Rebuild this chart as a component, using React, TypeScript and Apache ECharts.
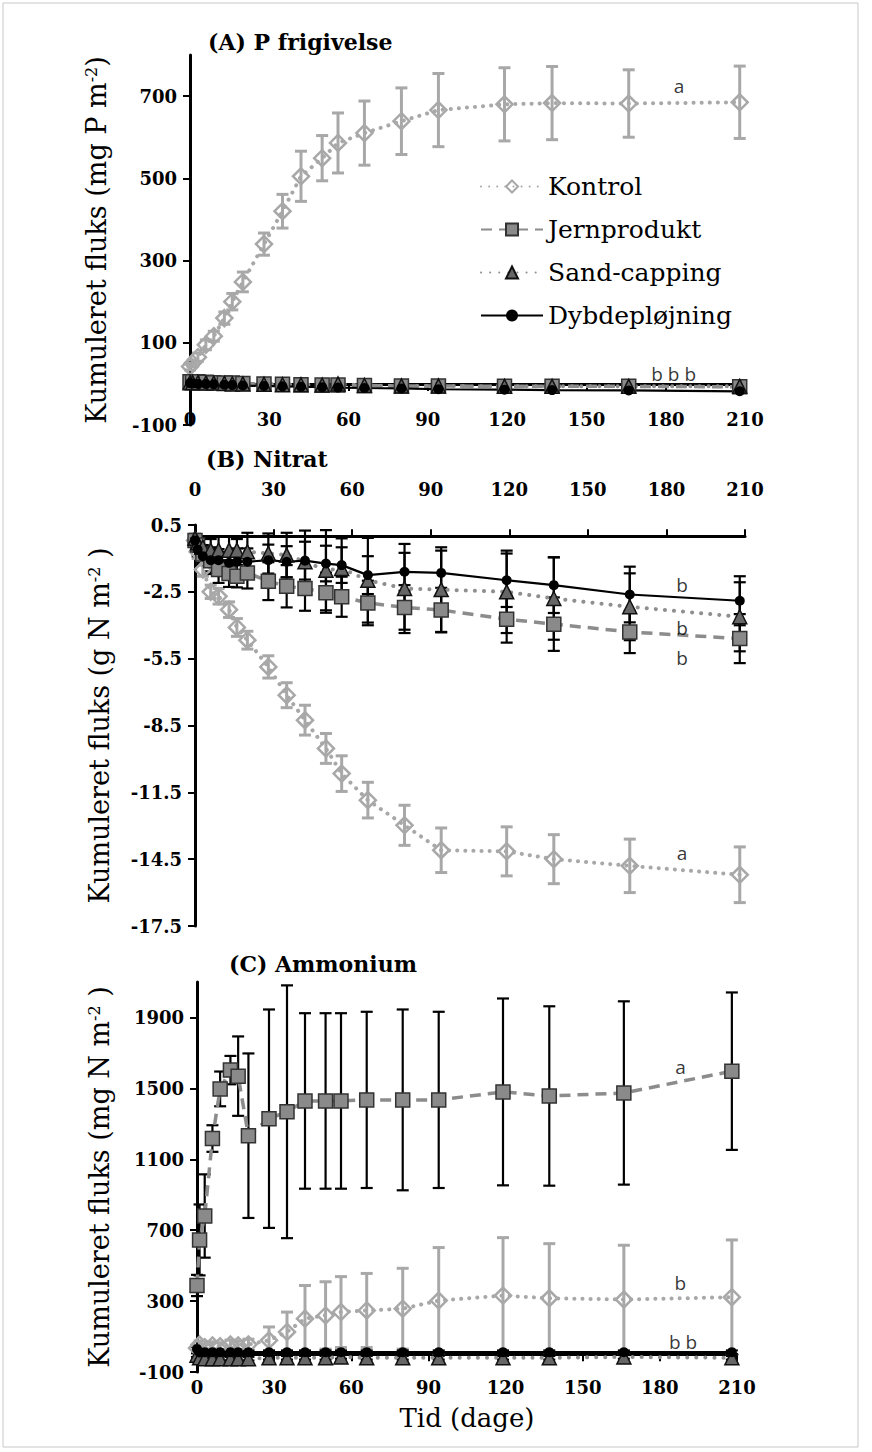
import React, { useEffect, useRef } from 'react';
import * as echarts from 'echarts';

// ---------- data ----------
const days = [0, 1, 3, 6, 9, 13, 16, 20, 28, 35, 42, 50, 56, 66, 80, 94, 119, 137, 166, 208];
const seriesNames = ['Kontrol', 'Jernprodukt', 'Sand-capping', 'Dybdepløjning'];

// (A) P frigivelse (mg P m-2)
const pKontrol = [42, 50, 65, 95, 116, 160, 200, 248, 340, 420, 505, 549, 586, 610, 639, 666, 680, 683, 682, 685];
const pKontrolErr = [8, 8, 10, 12, 12, 15, 20, 24, 27, 41, 61, 55, 73, 78, 81, 89, 89, 89, 82, 88];
const pJern = [5, 5, 5, 4, 3, 2, 2, 1, 0, -1, -2, -3, -3, -4, -5, -5, -6, -6, -6, -7];
const pSand = [3, 3, 3, 2, 2, 1, 0, 0, -1, -2, -2, -3, 0, -4, -5, -5, -6, -6, -6, -6];
const pDyb = [2, 1, 0, 0, -1, -2, -3, -4, -5, -6, -7, -8, -9, -10, -11, -13, -14, -15, -16, -18];
const pSmallErr = [3, 3, 3, 3, 3, 3, 3, 3, 3, 3, 3, 3, 3, 3, 3, 3, 3, 3, 3, 3];

// (B) Nitrat (g N m-2)
const nKontrol = [-0.2, -0.7, -1.5, -2.5, -2.7, -3.3, -4.1, -4.67, -5.87, -7.14, -8.26, -9.53, -10.66, -11.85, -12.98, -14.1, -14.15, -14.5, -14.8, -15.2];
const nKontrolErr = [0.2, 0.3, 0.3, 0.3, 0.35, 0.35, 0.4, 0.4, 0.5, 0.56, 0.67, 0.67, 0.8, 0.8, 0.9, 1.0, 1.1, 1.1, 1.2, 1.25];
const nJern = [-0.2, -0.4, -0.8, -1.1, -1.5, -1.68, -1.8, -1.65, -2.02, -2.25, -2.35, -2.54, -2.72, -3.0, -3.2, -3.32, -3.73, -3.95, -4.3, -4.6];
const nJernErr = [0.2, 0.3, 0.4, 0.6, 0.6, 0.6, 0.5, 0.7, 0.85, 0.95, 1.0, 0.9, 0.9, 1.0, 1.0, 1.0, 1.05, 1.2, 0.95, 1.1];
const nSand = [-0.1, -0.3, -0.5, -0.63, -0.63, -0.63, -0.63, -0.7, -0.78, -0.85, -1.15, -1.53, -1.45, -1.98, -2.35, -2.4, -2.5, -2.8, -3.17, -3.62];
const nSandErr = [0.2, 0.3, 0.4, 0.5, 0.6, 0.6, 0.5, 0.85, 0.9, 1.0, 1.4, 1.8, 1.35, 1.9, 2.0, 1.9, 1.85, 1.85, 1.5, 1.55];
const nDyb = [-0.2, -0.6, -0.9, -1.08, -1.08, -1.2, -1.15, -1.15, -1.08, -1.15, -1.1, -1.23, -1.3, -1.75, -1.6, -1.65, -1.98, -2.2, -2.62, -2.9];
const nDybErr = [0.2, 0.3, 0.4, 0.5, 0.5, 0.5, 0.6, 0.6, 0.7, 0.7, 0.85, 0.8, 0.8, 0.85, 0.85, 1.0, 1.2, 1.25, 1.25, 1.1];

// (C) Ammonium (mg N m-2)
const aKontrol = [35, 55, 40, 50, 45, 55, 50, 55, 79, 126, 201, 219, 238, 247, 257, 303, 331, 316, 309, 322];
const aKontrolErr = [15, 20, 15, 20, 20, 25, 25, 30, 75, 112, 187, 190, 200, 209, 228, 299, 327, 308, 306, 323];
const aJern = [388, 645, 780, 1217, 1497, 1603, 1569, 1233, 1329, 1368, 1429, 1429, 1429, 1435, 1435, 1435, 1480, 1457, 1474, 1597];
const aJernErr = [60, 200, 235, 75, 98, 80, 224, 464, 616, 713, 495, 495, 495, 497, 510, 497, 527, 506, 517, 444];
const aSand = [-5, -20, -25, -25, -25, -25, -25, -25, -20, -20, -20, -20, -15, -20, -20, -20, -20, -20, -15, -20];
const aDyb = [30, 10, 12, 12, 12, 12, 12, 12, 12, 12, 12, 12, 12, 12, 12, 12, 12, 12, 12, 12];
const aSmallErr = [10, 10, 10, 10, 10, 10, 10, 10, 10, 10, 10, 10, 10, 10, 10, 10, 10, 10, 10, 10];

// tick labels
const xTicks = [0, 30, 60, 90, 120, 150, 180, 210];
const yTicksA = [-100, 100, 300, 500, 700];
const yTicksB = [-17.5, -14.5, -11.5, -8.5, -5.5, -2.5, 0.5];
const yTicksC = [-100, 300, 700, 1100, 1500, 1900];

// significance letters [day, value, text]
const annotA: [number, number, string][] = [[185, 725, 'a'], [183, 25, 'b b b']];
const annotB: [number, number, string][] = [[186, -2.2, 'b'], [186, -4.12, 'b'], [186, -5.48, 'b'], [186, -14.23, 'a']];
const annotC: [number, number, string][] = [[188, 1620, 'a'], [188, 404, 'b'], [189, 68, 'b b']];

// ---------- styles ----------
const SERIF = 'DejaVu Serif';
const styles: Record<string, any> = {
  Kontrol: {
    symbol: 'diamond', symbolSize: 16,
    itemStyle: { color: 'rgba(255,255,255,0)', borderColor: '#a8a8a8', borderWidth: 2.5 },
    lineStyle: { color: '#a8a8a8', width: 4, type: [0.1, 8], cap: 'round' },
  },
  Jernprodukt: {
    symbol: 'rect', symbolSize: 14,
    itemStyle: { color: '#8a8a8a', borderColor: '#333', borderWidth: 1.5 },
    lineStyle: { color: '#8c8c8c', width: 3.5, type: [11, 7] },
  },
  'Sand-capping': {
    symbol: 'triangle', symbolSize: 14,
    itemStyle: { color: '#666', borderColor: '#111', borderWidth: 1.5 },
    lineStyle: { color: '#8f8f8f', width: 4, type: [0.1, 9], cap: 'round' },
  },
  Dybdepløjning: {
    symbol: 'circle', symbolSize: 10,
    itemStyle: { color: '#000' },
    lineStyle: { color: '#000', width: 2.2, type: 'solid' },
  },
};

function lineSeries(name: string, idx: number, vals: number[]) {
  const st = styles[name];
  return {
    type: 'line', name, xAxisIndex: idx * 2, yAxisIndex: idx, z: 3, silent: true,
    data: days.map((d, i) => [d, vals[i]]),
    symbol: st.symbol, symbolSize: st.symbolSize,
    itemStyle: st.itemStyle, lineStyle: st.lineStyle,
  };
}

function errSeries(idx: number, vals: number[], errs: number[], color: string, width: number) {
  return {
    type: 'custom', xAxisIndex: idx * 2, yAxisIndex: idx, z: 2, silent: true,
    data: days.map((d, i) => [d, vals[i] - errs[i], vals[i] + errs[i]]),
    encode: { x: 0, y: [1, 2] },
    renderItem: (_p: any, api: any) => {
      const x = api.value(0);
      const a = api.coord([x, api.value(1)]);
      const b = api.coord([x, api.value(2)]);
      const st = { stroke: color, lineWidth: width, fill: 'none' };
      const cw = 6;
      return {
        type: 'group',
        children: [
          { type: 'line', shape: { x1: a[0], y1: a[1], x2: b[0], y2: b[1] }, style: st },
          { type: 'line', shape: { x1: a[0] - cw, y1: a[1], x2: a[0] + cw, y2: a[1] }, style: st },
          { type: 'line', shape: { x1: b[0] - cw, y1: b[1], x2: b[0] + cw, y2: b[1] }, style: st },
        ],
      };
    },
  };
}

function annotSeries(idx: number, items: [number, number, string][]) {
  return {
    type: 'scatter', xAxisIndex: idx * 2, yAxisIndex: idx, z: 5, silent: true,
    symbolSize: 1, itemStyle: { color: 'rgba(0,0,0,0)' },
    data: items.map((a) => [a[0], a[1], a[2]]),
    label: {
      show: true, position: 'inside', formatter: (p: any) => p.value[2],
      fontFamily: 'Open Sans', fontSize: 19, color: '#000',
    },
  };
}

const tickLabel = { fontFamily: SERIF, fontWeight: 'bold', fontSize: 18, color: '#000' };

// axis line drawn through y = 0, ticks only
function xLineAxis(idx: number, position: string) {
  return {
    type: 'value', gridIndex: idx, position, min: 0, max: 210, interval: 30,
    axisLine: { show: true, onZero: true, lineStyle: { color: '#000', width: 3 } },
    axisTick: { show: true, length: 7, lineStyle: { color: '#000', width: 2 } },
    axisLabel: { show: false },
    splitLine: { show: false },
  };
}

// tick labels placed at the grid edge
function xLabelAxis(idx: number, position: string, margin: number, offset: number, extra: any = {}) {
  return {
    type: 'value', gridIndex: idx, position, offset, min: 0, max: 210, interval: 30,
    axisLine: { show: false, onZero: false },
    axisTick: { show: false },
    axisLabel: { ...tickLabel, margin, customValues: xTicks },
    splitLine: { show: false },
    ...extra,
  };
}

function yAxisCfg(idx: number, min: number, max: number, ticks: number[], name: string, nameGap: number, fmt: (v: number) => string) {
  return {
    type: 'value', gridIndex: idx, min, max,
    axisLine: { show: true, onZero: false, lineStyle: { color: '#000', width: 3 } },
    axisTick: { show: true, length: 7, customValues: ticks, lineStyle: { color: '#000', width: 2 } },
    axisLabel: { ...tickLabel, margin: 13, customValues: ticks, formatter: fmt },
    splitLine: { show: false },
    name, nameLocation: 'middle', nameGap,
    nameTextStyle: {
      fontFamily: SERIF, fontSize: 27, color: '#000',
      rich: { s: { fontFamily: SERIF, fontSize: 16, color: '#000', verticalAlign: 'top', padding: [0, 0, 11, 0] } },
    },
  };
}

const titleStyle = { fontFamily: SERIF, fontWeight: 'bold', fontSize: 22, color: '#000' };

export default function App() {
  const ref = useRef<HTMLDivElement>(null);
  useEffect(() => {
    document.body.style.margin = '0';
    if (!ref.current) return;
    const chart = echarts.init(ref.current, undefined, { renderer: 'svg' });
    const series: any[] = [
      // A
      errSeries(0, pKontrol, pKontrolErr, '#a8a8a8', 3),
      errSeries(0, pJern, pSmallErr, '#000', 2),
      errSeries(0, pSand, pSmallErr, '#000', 2),
      errSeries(0, pDyb, pSmallErr, '#000', 2),
      lineSeries('Kontrol', 0, pKontrol),
      lineSeries('Jernprodukt', 0, pJern),
      lineSeries('Sand-capping', 0, pSand),
      lineSeries('Dybdepløjning', 0, pDyb),
      annotSeries(0, annotA),
      // B
      errSeries(1, nKontrol, nKontrolErr, '#a8a8a8', 3),
      errSeries(1, nJern, nJernErr, '#000', 2.2),
      errSeries(1, nSand, nSandErr, '#000', 2.2),
      errSeries(1, nDyb, nDybErr, '#000', 2.2),
      lineSeries('Kontrol', 1, nKontrol),
      lineSeries('Jernprodukt', 1, nJern),
      lineSeries('Sand-capping', 1, nSand),
      lineSeries('Dybdepløjning', 1, nDyb),
      annotSeries(1, annotB),
      // C
      errSeries(2, aKontrol, aKontrolErr, '#a8a8a8', 3),
      errSeries(2, aJern, aJernErr, '#000', 2.2),
      errSeries(2, aSand, aSmallErr, '#000', 2),
      errSeries(2, aDyb, aSmallErr, '#000', 2),
      lineSeries('Kontrol', 2, aKontrol),
      lineSeries('Jernprodukt', 2, aJern),
      lineSeries('Sand-capping', 2, aSand),
      lineSeries('Dybdepløjning', 2, aDyb),
      annotSeries(2, annotC),
    ];
    chart.setOption({
      animation: false,
      backgroundColor: '#fff',
      title: [
        { text: '(A) P frigivelse', left: 208, top: 31, padding: 0, textStyle: titleStyle },
        { text: '(B) Nitrat', left: 206, top: 448, padding: 0, textStyle: titleStyle },
        { text: '(C) Ammonium', left: 229, top: 953, padding: 0, textStyle: titleStyle },
      ],
      legend: {
        data: seriesNames, orient: 'vertical', left: 480, top: 174, padding: 0,
        itemWidth: 62, itemHeight: 15, itemGap: 18, selectedMode: false,
        textStyle: { fontFamily: SERIF, fontSize: 25, color: '#000' },
      },
      grid: [
        { left: 190, top: 55, width: 555, height: 370 },
        { left: 195, top: 525, width: 550, height: 401 },
        { left: 197, top: 982, width: 540, height: 390 },
      ],
      xAxis: [
        xLineAxis(0, 'bottom'),
        xLabelAxis(0, 'bottom', 0, -15),
        xLineAxis(1, 'top'),
        xLabelAxis(1, 'top', 27, 0),
        xLineAxis(2, 'bottom'),
        xLabelAxis(2, 'bottom', 6, 0, {
          name: 'Tid (dage)', nameLocation: 'middle', nameGap: 33,
          nameTextStyle: { fontFamily: SERIF, fontSize: 26, color: '#000' },
        }),
      ],
      yAxis: [
        yAxisCfg(0, -100, 800, yTicksA, 'Kumuleret fluks (mg P m{s|-2})', 80, (v) => String(v)),
        yAxisCfg(1, -17.5, 0.5, yTicksB, 'Kumuleret fluks (g N m{s|-2} )', 82, (v) => v.toFixed(1)),
        yAxisCfg(2, -100, 2100, yTicksC, 'Kumuleret fluks (mg N m{s|-2} )', 84, (v) => String(v)),
      ],
      graphic: [
        { type: 'rect', shape: { x: 3, y: 3, width: 855, height: 1444 }, style: { fill: 'none', stroke: '#c8c8c8', lineWidth: 1 }, silent: true },
      ],
      series,
    });
    return () => chart.dispose();
  }, []);
  return <div ref={ref} style={{ width: 872, height: 1452 }} />;
}
